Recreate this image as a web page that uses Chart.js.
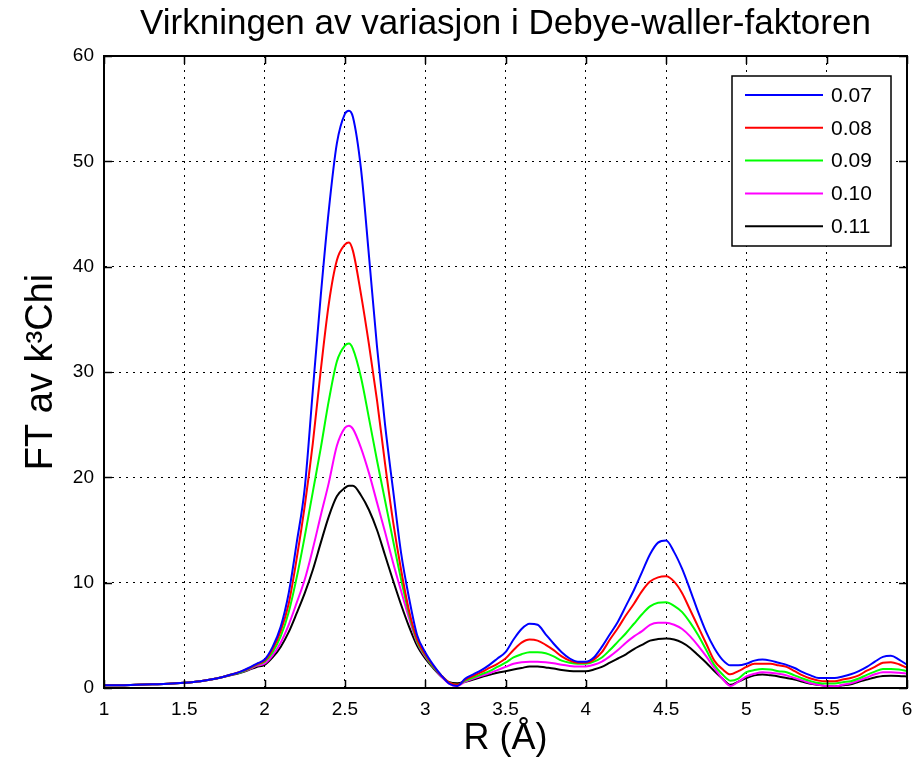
<!DOCTYPE html>
<html lang="no">
<head>
<meta charset="UTF-8">
<title>Virkningen av variasjon i Debye-waller-faktoren</title>
<script src="https://cdn.jsdelivr.net/npm/chart.js"></script>
<style>
  body { margin: 0; background: #fff; }
  .chart-box { position: relative; width: 914px; height: 762px; }
</style>
</head>
<body>
<div class="chart-box"><canvas id="dwChart"></canvas></div>
<script>
// R (Å) sample positions shared by all series
const rValues = [
  1.0, 1.1, 1.2, 1.3, 1.4, 1.5, 1.6, 1.7,
  1.8, 1.85, 1.9, 1.95,
  2.0, 2.05, 2.1, 2.15, 2.2, 2.25, 2.3, 2.35, 2.4, 2.45, 2.5, 2.525, 2.55, 2.6, 2.65, 2.7, 2.75, 2.8, 2.85, 2.9, 2.95,
  3.0, 3.05, 3.1, 3.15, 3.2, 3.25, 3.3, 3.35, 3.4, 3.45, 3.5, 3.55, 3.6, 3.65, 3.7, 3.75, 3.8, 3.85, 3.9, 3.95,
  4.0, 4.05, 4.1, 4.15, 4.2, 4.25, 4.3, 4.35, 4.4, 4.45, 4.5, 4.55, 4.6, 4.65, 4.7, 4.75, 4.8, 4.85, 4.9, 4.95,
  5.0, 5.05, 5.1, 5.15, 5.2, 5.25, 5.3, 5.35, 5.4, 5.45, 5.5, 5.55, 5.6, 5.65, 5.7, 5.75, 5.8, 5.85, 5.9, 5.95,
  6.0
];

// FT av k^3 Chi for each Debye-Waller value
const dw007 = [
  0.25, 0.25, 0.3, 0.35, 0.4, 0.5, 0.65, 0.9,
  1.3, 1.55, 1.9, 2.3,
  2.7, 3.9, 5.8, 9.0, 13.8, 19.0, 28.2, 37.3, 45.4, 51.7, 54.5, 54.8, 54.2, 49.3, 41.0, 32.4, 25.0, 18.8, 12.8, 8.5, 5.0,
  3.4, 2.2, 1.2, 0.4, 0.2, 0.9, 1.3, 1.7, 2.2, 2.8, 3.4, 4.6, 5.6, 6.1, 6.0, 5.1, 4.2, 3.4, 2.8, 2.5,
  2.5, 2.9, 3.9, 5.1, 6.3, 7.8, 9.3, 11.0, 12.7, 13.8, 14.0, 12.9, 11.3, 9.3, 7.2, 5.3, 3.8, 2.7, 2.15, 2.15,
  2.3, 2.6, 2.7, 2.6, 2.4, 2.2, 1.9, 1.5, 1.2, 0.95, 0.95, 0.95, 1.1, 1.3, 1.6, 2.0, 2.5, 2.95, 3.05, 2.7,
  2.2
];
const dw008 = [
  0.25, 0.25, 0.3, 0.35, 0.4, 0.5, 0.65, 0.9,
  1.3, 1.55, 1.85, 2.25,
  2.6, 3.7, 5.4, 8.0, 12.3, 17.3, 23.2, 30.2, 36.5, 40.6, 42.1, 42.3, 41.5, 37.4, 32.6, 27.3, 21.3, 15.8, 11.2, 7.3, 4.6,
  3.2, 2.1, 1.2, 0.5, 0.3, 0.8, 1.15, 1.5, 1.9, 2.3, 2.8, 3.6, 4.3, 4.6, 4.5, 4.1, 3.6, 3.0, 2.6, 2.4,
  2.4, 2.7, 3.4, 4.6, 5.7, 6.9, 8.0, 9.2, 10.1, 10.5, 10.6, 10.1, 9.0, 7.4, 5.8, 4.2, 2.6, 1.8, 1.3, 1.6,
  2.0, 2.3, 2.3, 2.3, 2.15, 2.0, 1.6, 1.2, 0.9, 0.7, 0.65, 0.65, 0.8, 0.95, 1.2, 1.65, 2.0, 2.4, 2.45, 2.25,
  1.9
];
const dw009 = [
  0.25, 0.25, 0.3, 0.35, 0.4, 0.5, 0.65, 0.9,
  1.3, 1.5, 1.8, 2.2,
  2.5, 3.4, 4.9, 7.2, 10.5, 14.4, 18.6, 22.8, 27.3, 31.0, 32.5, 32.7, 32.2, 29.5, 25.6, 21.6, 17.8, 14.0, 10.3, 7.0, 4.4,
  3.1, 2.0, 1.2, 0.5, 0.3, 0.7, 1.0, 1.3, 1.6, 2.0, 2.4, 2.9, 3.2, 3.4, 3.4, 3.3, 3.0, 2.6, 2.4, 2.3,
  2.3, 2.5, 2.9, 3.6, 4.4, 5.2, 6.1, 7.0, 7.75, 8.1, 8.15, 7.8, 7.2, 6.2, 5.0, 3.6, 2.2, 1.3, 0.7, 0.9,
  1.5, 1.7, 1.8, 1.75, 1.6, 1.5, 1.2, 0.9, 0.65, 0.47, 0.42, 0.42, 0.55, 0.65, 0.9, 1.25, 1.55, 1.8, 1.8, 1.75,
  1.6
];
const dw010 = [
  0.25, 0.25, 0.3, 0.35, 0.4, 0.5, 0.65, 0.9,
  1.3, 1.5, 1.75, 2.1,
  2.3, 3.1, 4.3, 6.0, 8.1, 10.3, 13.2, 16.4, 19.5, 23.0, 24.7, 24.9, 24.6, 22.8, 20.4, 17.6, 14.8, 11.9, 9.2, 6.6, 4.3,
  3.0, 2.0, 1.1, 0.4, 0.2, 0.6, 0.9, 1.15, 1.4, 1.7, 2.0, 2.3, 2.45, 2.5, 2.5, 2.45, 2.35, 2.2, 2.1, 2.05,
  2.05, 2.2, 2.5, 3.0, 3.6, 4.3, 4.9, 5.4, 6.0, 6.2, 6.2, 6.0, 5.6, 4.9, 4.0, 3.0, 1.9, 0.9, 0.2, 0.6,
  1.1, 1.35, 1.5, 1.45, 1.35, 1.2, 0.95, 0.7, 0.45, 0.3, 0.18, 0.15, 0.3, 0.45, 0.7, 1.0, 1.3, 1.5, 1.5, 1.45,
  1.36
];
const dw011 = [
  0.25, 0.25, 0.3, 0.35, 0.4, 0.5, 0.65, 0.9,
  1.25, 1.45, 1.7, 2.0,
  2.2, 2.9, 3.9, 5.3, 7.1, 9.0, 11.2, 13.8, 16.3, 18.2, 19.0, 19.2, 19.2, 18.3, 16.9, 15.0, 12.6, 10.2, 7.9, 5.8, 4.0,
  2.8, 1.9, 1.1, 0.55, 0.45, 0.6, 0.8, 1.05, 1.25, 1.45, 1.6, 1.75, 1.9, 2.05, 2.05, 1.95, 1.85, 1.7, 1.62, 1.6,
  1.6, 1.75, 2.0, 2.4, 2.8, 3.2, 3.7, 4.1, 4.5, 4.65, 4.7, 4.6, 4.3, 3.8, 3.1, 2.4, 1.6, 0.9, 0.3, 0.6,
  0.95, 1.2, 1.27, 1.2, 1.1, 0.95, 0.8, 0.6, 0.4, 0.3, 0.18, 0.15, 0.25, 0.35, 0.6, 0.8, 1.0, 1.15, 1.17, 1.15,
  1.1
];

const seriesLabels = ['0.07', '0.08', '0.09', '0.10', '0.11'];
const seriesValues = [dw007, dw008, dw009, dw010, dw011];
const seriesColors = ['#0000ff', '#ff0000', '#00ff00', '#ff00ff', '#000000'];

const xTicks = [1, 1.5, 2, 2.5, 3, 3.5, 4, 4.5, 5, 5.5, 6];
const yTicks = [0, 10, 20, 30, 40, 50, 60];

const FONT = "'Liberation Sans', Arial, sans-serif";

// box + inward tick marks on all four sides (matlab style)
const axisFrame = {
  id: 'axisFrame',
  afterDatasetsDraw(chart) {
    const { ctx, chartArea: a, scales } = chart;
    const x = scales.x, y = scales.y;
    ctx.save();
    ctx.strokeStyle = '#000';
    ctx.lineWidth = 2;
    ctx.strokeRect(a.left, a.top, a.right - a.left, a.bottom - a.top);
    ctx.lineWidth = 1.5;
    ctx.beginPath();
    x.ticks.forEach(t => {
      const px = Math.round(x.getPixelForValue(t.value)) + 0.5;
      ctx.moveTo(px, a.bottom); ctx.lineTo(px, a.bottom - 8);
      ctx.moveTo(px, a.top); ctx.lineTo(px, a.top + 8);
    });
    y.ticks.forEach(t => {
      const py = Math.round(y.getPixelForValue(t.value)) + 0.5;
      ctx.moveTo(a.left, py); ctx.lineTo(a.left + 8, py);
      ctx.moveTo(a.right, py); ctx.lineTo(a.right - 8, py);
    });
    ctx.stroke();
    ctx.restore();
  }
};

// legend box inside the plot, top right
const boxLegend = {
  id: 'boxLegend',
  afterDraw(chart) {
    const { ctx, chartArea: a } = chart;
    const left = a.right - 175, top = a.top + 20;
    const w = 159, h = 170;
    ctx.save();
    ctx.fillStyle = '#fff';
    ctx.fillRect(left, top, w, h);
    ctx.strokeStyle = '#000';
    ctx.lineWidth = 1.5;
    ctx.strokeRect(left, top, w, h);
    ctx.font = '21px ' + FONT;
    ctx.textBaseline = 'middle';
    chart.data.datasets.forEach((ds, i) => {
      const rowY = top + 19 + i * 32.8;
      ctx.strokeStyle = ds.borderColor;
      ctx.lineWidth = 2;
      ctx.beginPath();
      ctx.moveTo(left + 13, rowY);
      ctx.lineTo(left + 91, rowY);
      ctx.stroke();
      ctx.fillStyle = '#000';
      ctx.fillText(ds.label, left + 99, rowY + 1);
    });
    ctx.restore();
  }
};

new Chart(document.getElementById('dwChart'), {
  type: 'line',
  data: {
    datasets: seriesLabels.map((label, i) => ({
      label: label,
      data: rValues.map((r, j) => ({ x: r, y: seriesValues[i][j] })),
      borderColor: seriesColors[i],
      backgroundColor: seriesColors[i],
      borderWidth: 2,
      pointRadius: 0,
      cubicInterpolationMode: 'monotone',
      fill: false
    }))
  },
  options: {
    responsive: true,
    maintainAspectRatio: false,
    animation: false,
    layout: { padding: { left: 0, right: 7, top: 0, bottom: 0 } },
    plugins: {
      legend: { display: false },
      tooltip: { enabled: false },
      title: {
        display: true,
        fullSize: false,
        text: 'Virkningen av variasjon i Debye-waller-faktoren',
        color: '#000',
        font: { family: FONT, size: 35, weight: 'normal' },
        padding: { top: 3, bottom: 11 }
      }
    },
    scales: {
      x: {
        type: 'linear',
        min: 1,
        max: 6,
        afterBuildTicks: s => { s.ticks = xTicks.map(v => ({ value: v })); },
        afterFit: s => { s.height = 74; s.paddingLeft = 0; s.paddingRight = 0; },
        grid: { color: '#000', lineWidth: 1, drawTicks: false },
        border: { display: true, color: '#000', width: 2, dash: [2, 5] },
        ticks: {
          color: '#000',
          padding: 10,
          font: { family: FONT, size: 19 },
          callback: v => String(v)
        },
        title: {
          display: true,
          text: 'R (Å)',
          color: '#000',
          font: { family: FONT, size: 36 },
          padding: { top: 0, bottom: 1 }
        }
      },
      y: {
        min: 0,
        max: 60,
        afterBuildTicks: s => { s.ticks = yTicks.map(v => ({ value: v })); },
        afterFit: s => { s.width = 104; s.paddingTop = 0; s.paddingBottom = 0; },
        grid: { color: '#000', lineWidth: 1, drawTicks: false },
        border: { display: true, color: '#000', width: 2, dash: [2, 5] },
        ticks: { color: '#000', padding: 10, font: { family: FONT, size: 19 } },
        title: {
          display: true,
          text: 'FT av k³Chi',
          color: '#000',
          font: { family: FONT, size: 38 },
          padding: { top: 19, bottom: 0 }
        }
      }
    }
  },
  plugins: [axisFrame, boxLegend]
});
</script>
</body>
</html>
